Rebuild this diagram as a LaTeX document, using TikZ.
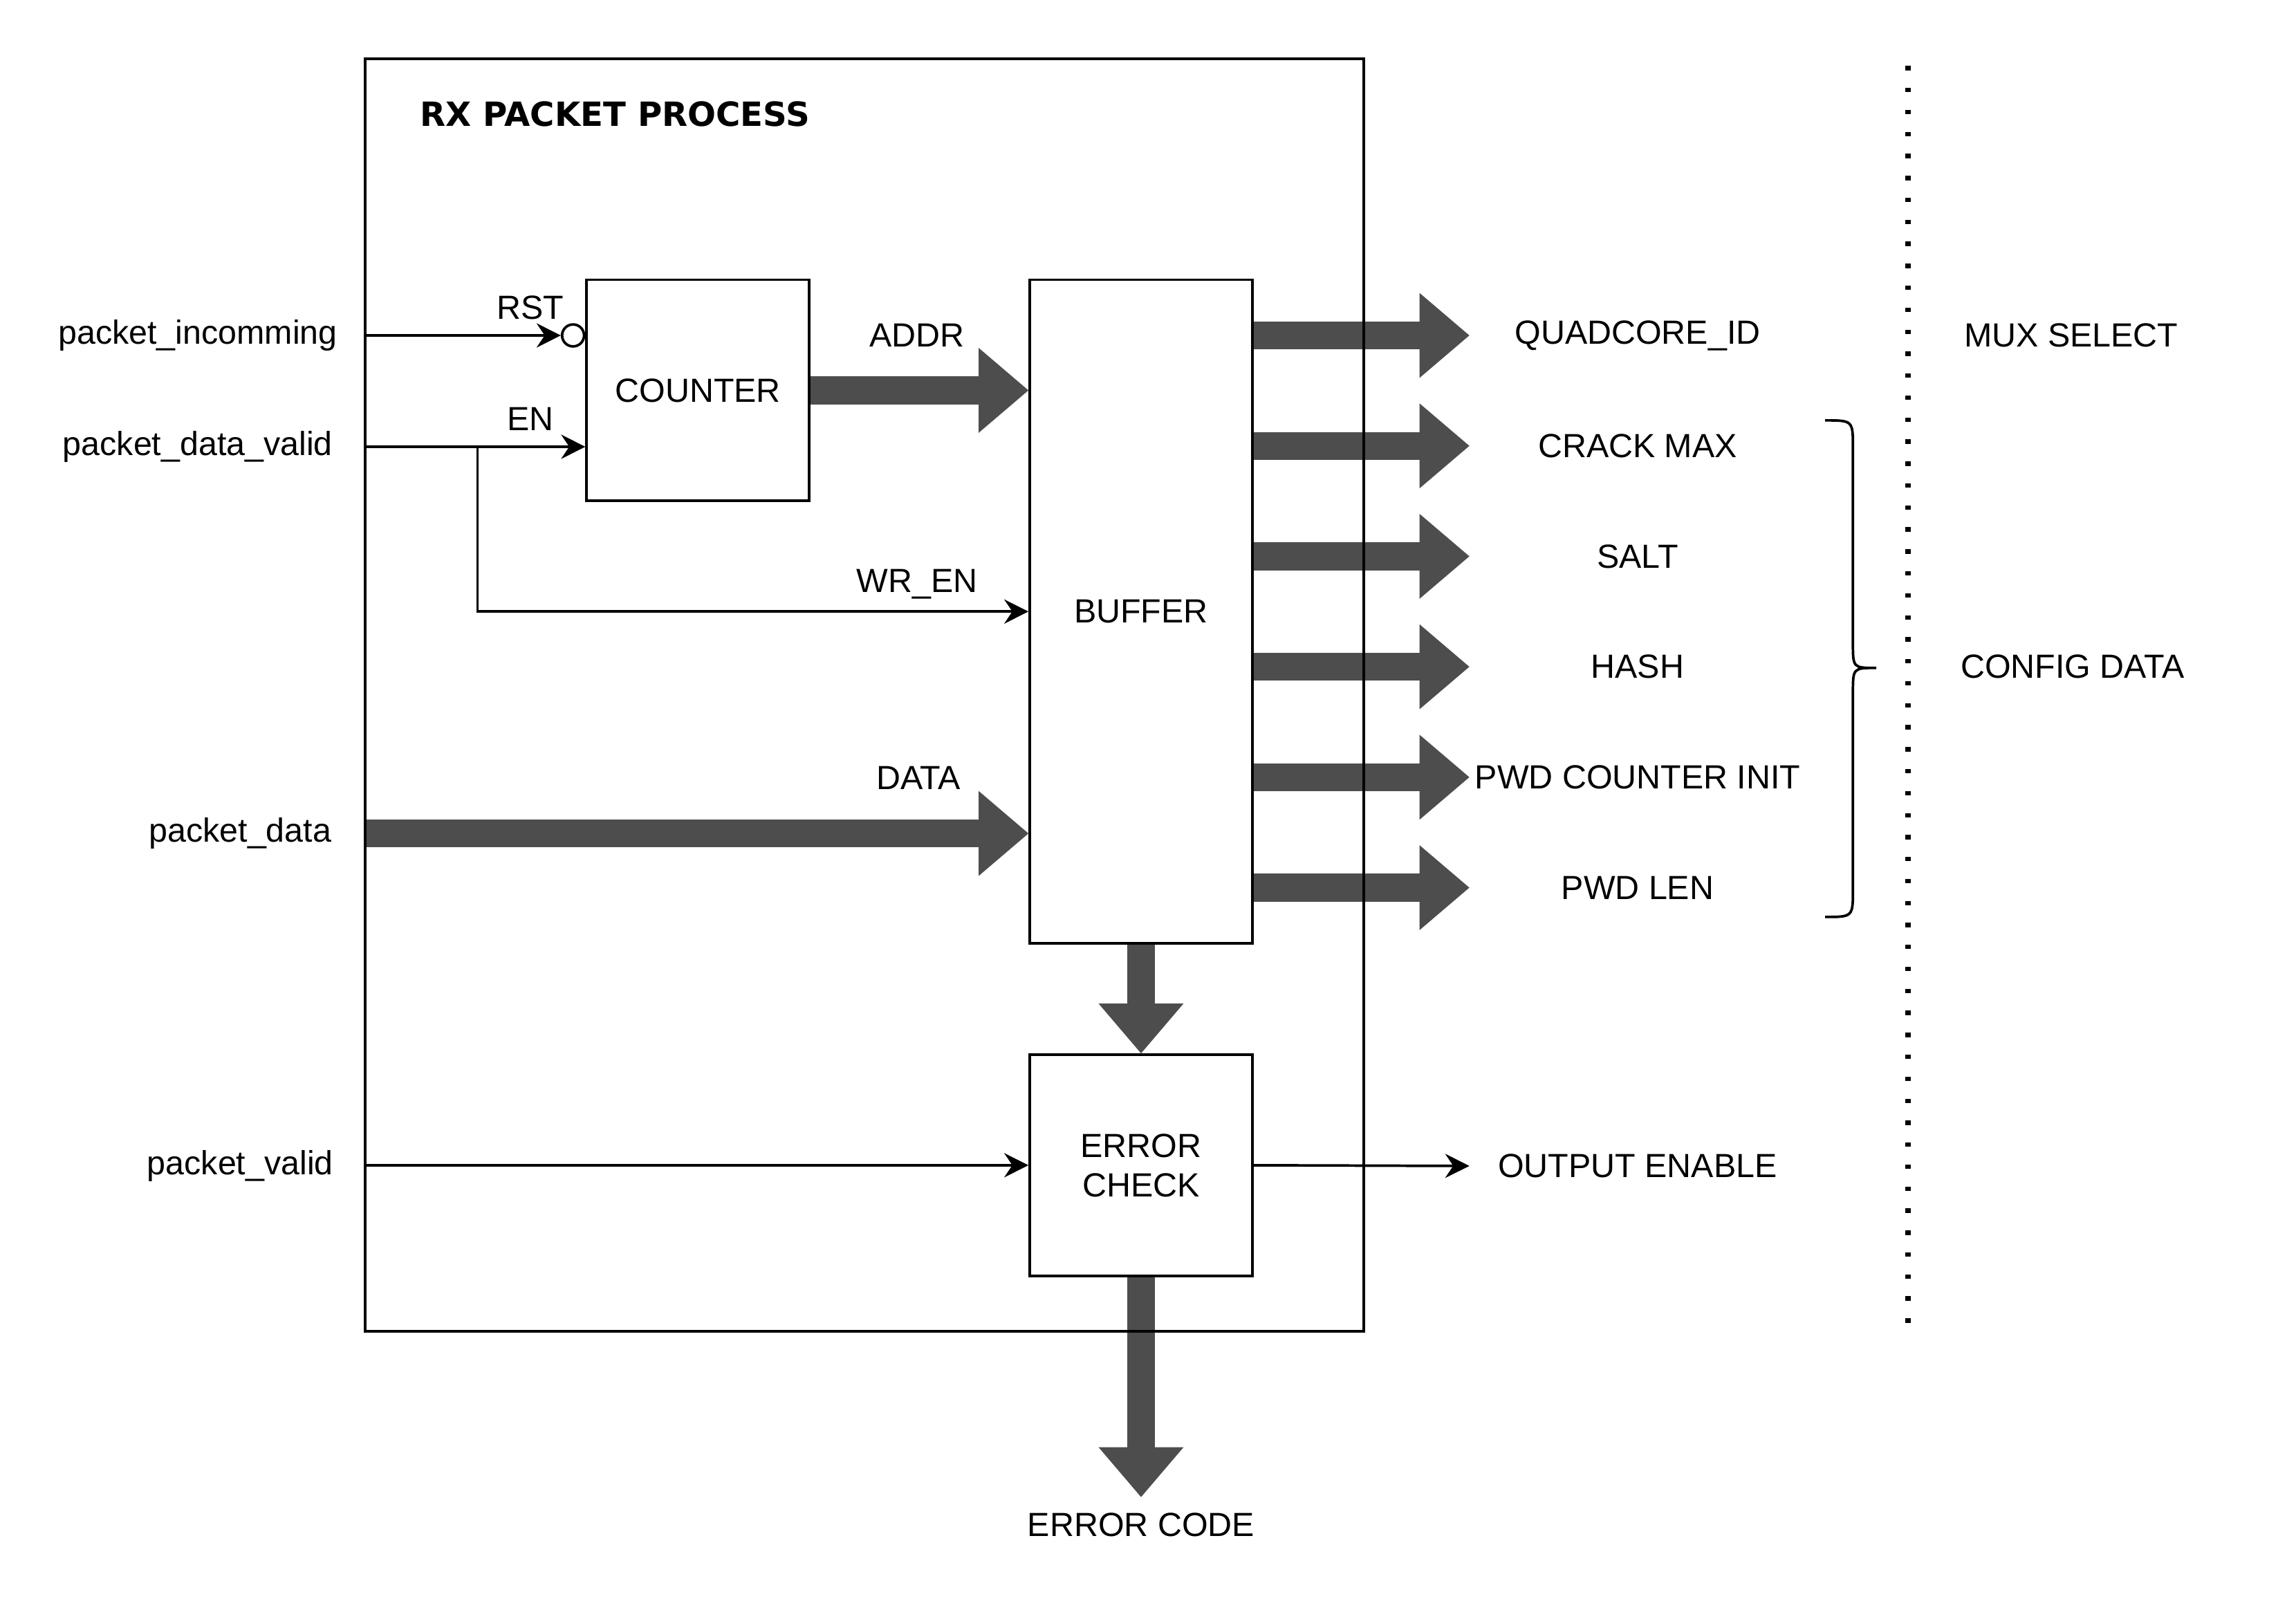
\documentclass[tikz,border=0pt]{standalone}
\usepackage{fontspec}
\setmainfont{Liberation Sans}
\newfontfamily\dejavu{DejaVu Sans}
\usetikzlibrary{arrows.meta,positioning}
\definecolor{BusGray}{HTML}{4D4D4D}

\begin{document}
\begin{tikzpicture}[>={Stealth[length=3.3mm,width=3.3mm,inset=1.1mm]},line width=1pt,
  font=\fontsize{13}{15.3}\selectfont,
  blk/.style={draw,minimum width=3.04cm,minimum height=3.02cm,align=center},
  bus/.style={draw=BusGray,line width=3.8mm,-{Triangle[length=6.8mm,width=11.6mm,line width=0pt]}},
  outlbl/.style={minimum width=4.56cm,inner sep=0pt}]
\useasboundingbox (0,0) rectangle (31.35,-21.98);
% outer frame (outline drawn at the end)
\node[minimum width=13.6cm,minimum height=17.34cm,inner sep=0pt] (box) at (11.8,-9.49) {};
\node[anchor=west,inner sep=0pt,font=\dejavu\bfseries\fontsize{12.95}{15}\selectfont] (title) at (5.72,-1.56) {RX PACKET PROCESS};

% blocks
\node[blk] (cnt) at (9.53,-5.33) {COUNTER};
\node[blk,minimum height=9.06cm] (buf) at (15.58,-8.35) {BUFFER};
\node[blk] (err) at (15.58,-15.91) {ERROR\\CHECK};

% inputs
\node (inc) at (2.7,-4.58) {packet\_incomming};
\node (pdv) at (2.7,-6.1) {packet\_data\_valid};
\node (pd) at (3.28,-11.38) {packet\_data};
\node (pv) at (3.28,-15.92) {packet\_valid};
\node[draw,circle,minimum size=0.3cm,inner sep=0pt,anchor=east] (rst) at (cnt.west |- inc) {};
\draw[->] (box.west |- inc) -- (rst);
\draw[->] (box.west |- pdv) -- (cnt.west |- pdv);
\coordinate (split) at (6.52,-6.1);
\draw[->] (split) |- (buf.west);
\draw[->] (box.west |- err.west) -- (err.west);
\node (rstl) at (7.24,-4.2) {RST};
\node (enl) at (7.24,-5.72) {EN};
\node (wrl) at (12.52,-7.98) {WR\_EN};
\node (addrl) at (12.52,-4.58) {ADDR};
\node (datal) at (12.54,-10.62) {DATA};

% buses
\draw[bus] (cnt.east) -- (buf.west |- cnt.east);
\draw[bus] (box.west |- pd) -- (buf.west |- pd);
\draw[bus] (buf.south) -- (err.north);
\node[inner sep=0.2cm] (ecode) at (15.58,-20.82) {ERROR CODE};
\draw[bus] (err.south) -- (ecode.north);

% outputs
\foreach \txt [count=\i from 0] in {QUADCORE\_ID,CRACK MAX,SALT,HASH,PWD COUNTER INIT,PWD LEN}{
  \node[outlbl] (out\i) at (22.36,-4.58-1.508*\i) {\txt};
  \draw[bus] (buf.east |- out\i) -- (out\i.west);
}
\node[outlbl] (oe) at (22.36,-15.92) {OUTPUT ENABLE};
\draw[->] (err.east) -- (oe.west);

% right side
\draw (24.92,-5.74) .. controls (25.3,-5.74) .. (25.3,-6.12) -- (25.3,-8.78)
  .. controls (25.3,-9.12) .. (25.62,-9.12)
  .. controls (25.3,-9.12) .. (25.3,-9.46) -- (25.3,-12.14)
  .. controls (25.3,-12.52) .. (24.92,-12.52);
\draw[line width=0.076cm,dash pattern=on 0.06cm off 0.24cm] (26.05,-0.9) -- (26.05,-18.16);
\node (mux) at (28.28,-4.58) {MUX SELECT};
\node (cfg) at (28.3,-9.1) {CONFIG DATA};

\draw (box.north west) rectangle (box.south east);
\end{tikzpicture}
\end{document}
